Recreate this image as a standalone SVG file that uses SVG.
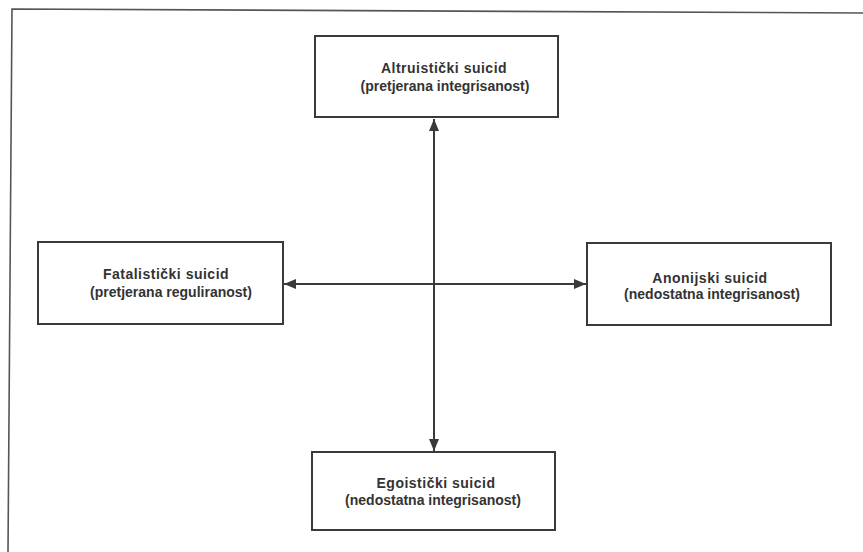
<svg xmlns="http://www.w3.org/2000/svg" width="863" height="552" viewBox="0 0 863 552">
<style>
.box{fill:#fff;stroke:#3a3a3a;stroke-width:2}
.t{font-family:"Liberation Sans",Arial,sans-serif;font-weight:bold;font-size:14px;fill:#333;text-anchor:middle}
.h{letter-spacing:0.5px}
.c{stroke:#3a3a3a;stroke-width:2;fill:none}
</style>
<defs>
<marker id="ah" viewBox="0 0 12 10" refX="12" refY="5" markerWidth="12" markerHeight="10" markerUnits="userSpaceOnUse" orient="auto-start-reverse">
<path d="M0,0 L12,5 L0,10 z" fill="#3a3a3a"/>
</marker>
</defs>
<rect width="863" height="552" fill="#fff"/>
<polyline points="8,552 12,9 863,13" fill="none" stroke="#555" stroke-width="1.6"/>
<g id="connectors">
<line class="c" x1="434" y1="119" x2="434" y2="451" marker-start="url(#ah)" marker-end="url(#ah)"/>
<line class="c" x1="284" y1="284" x2="586" y2="284" marker-start="url(#ah)" marker-end="url(#ah)"/>
</g>
<g id="altruisticki">
<rect class="box" x="315" y="36" width="243" height="81"/>
<text class="t h" x="444" y="73">Altruistički suicid</text>
<text class="t" x="445" y="91">(pretjerana integrisanost)</text>
</g>
<g id="fatalisticki">
<rect class="box" x="38" y="242" width="245" height="82"/>
<text class="t h" x="166" y="279">Fatalistički suicid</text>
<text class="t" x="171" y="297">(pretjerana reguliranost)</text>
</g>
<g id="anomijski">
<rect class="box" x="587" y="243" width="244" height="82"/>
<text class="t h" x="710" y="283">Anonijski suicid</text>
<text class="t" x="712" y="299">(nedostatna integrisanost)</text>
</g>
<g id="egoisticki">
<rect class="box" x="312" y="452" width="243" height="78"/>
<text class="t h" x="436" y="488">Egoistički suicid</text>
<text class="t" x="433" y="505">(nedostatna integrisanost)</text>
</g>
</svg>
